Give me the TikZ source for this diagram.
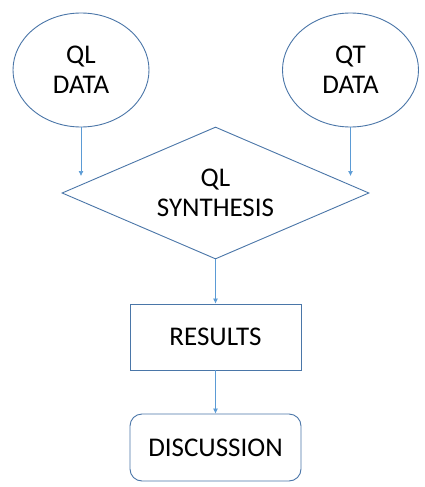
\documentclass[tikz,border=0pt]{standalone}
\usepackage{fontspec}
\setmainfont{Carlito}
\usetikzlibrary{shapes.geometric,arrows.meta}
\definecolor{outl}{HTML}{4A76A8}
\definecolor{arr}{HTML}{5B9BD5}
\tikzset{
  shapebase/.style={draw=outl, line width=0.9pt, inner sep=0pt, align=center,
    font=\fontsize{27}{30}\selectfont, text=black},
  oval/.style={shapebase, ellipse, minimum width=136pt, minimum height=114pt},
  decide/.style={shapebase, diamond, aspect=2.32, minimum width=307pt, minimum height=132pt},
  box/.style={shapebase, rectangle, minimum width=171pt, minimum height=66pt},
  rbox/.style={box, rounded corners=12pt, minimum height=67pt},
  flow/.style={draw=arr, line width=0.7pt, -{Latex[length=5pt,width=5pt]}}
}
\begin{document}
\begin{tikzpicture}[x=1pt,y=-1pt]
\useasboundingbox (0,0) rectangle (425,487);
\fill[white] (0,0) rectangle (425,487);
\node[oval] (qldata) at (81,70) {QL\\DATA};
\node[oval] (qtdata) at (350.5,70) {QT\\DATA};
\node[decide] (synth) at (215.5,193) {QL\\SYNTHESIS};
\node[box] (results) at (215.5,337) {RESULTS};
\node[rbox] (disc) at (215.5,447.5) {DISCUSSION};
\coordinate (lend) at (81,176);
\coordinate (rend) at (350.5,176);
\draw[flow] (qldata.south) -- (lend);
\draw[flow] (qtdata.south) -- (rend);
\draw[flow] (synth.south) -- (results.north);
\draw[flow] (results.south) -- (disc.north);
\end{tikzpicture}
\end{document}
